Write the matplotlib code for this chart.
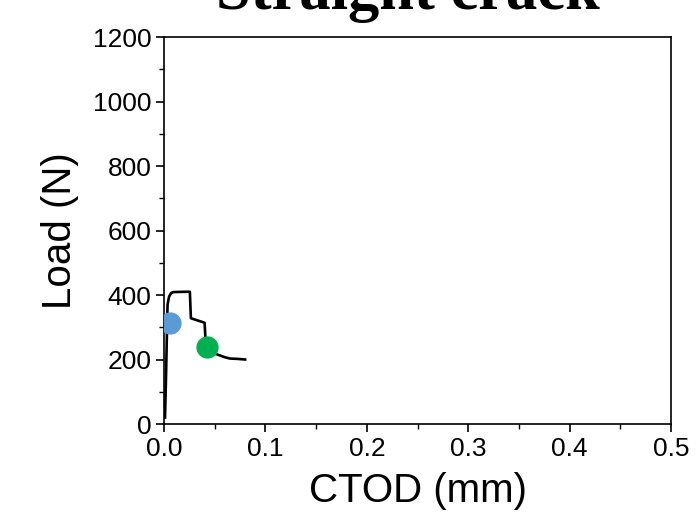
import matplotlib
matplotlib.use("Agg")
import matplotlib.pyplot as plt
from matplotlib.ticker import MultipleLocator

ctod = [0.001, 0.002, 0.003, 0.0035, 0.005, 0.007, 0.009, 0.020, 0.0255, 0.0265,
        0.040, 0.041, 0.043, 0.047, 0.053, 0.060, 0.065, 0.072, 0.080]
load = [20, 150, 300, 370, 395, 406, 409, 410, 410, 328,
        314, 260, 232, 222, 215, 207, 203, 202, 200]
marker_ctod = [0.0062, 0.0424]
marker_load = [312, 239]
marker_colors = ["#5B9BD5", "#00B050"]
title = "Straight crack"

plt.rcParams['font.family'] = ['Liberation Sans', 'DejaVu Sans']
fig = plt.figure(figsize=(7, 5.31), dpi=100)
ax = fig.add_axes([0.2343, 0.2015, 0.7243, 0.7288])
ax.plot(ctod, load, color="black", lw=1.9, zorder=2)
for xv, yv, c in zip(marker_ctod, marker_load, marker_colors):
    ax.plot([xv], [yv], 'o', ms=15, color=c, mec=c, zorder=3)

ax.set_xlim(0, 0.5)
ax.set_ylim(0, 1200)
ax.xaxis.set_major_locator(MultipleLocator(0.1))
ax.xaxis.set_minor_locator(MultipleLocator(0.05))
ax.yaxis.set_major_locator(MultipleLocator(200))
ax.yaxis.set_minor_locator(MultipleLocator(100))
ax.set_xticklabels([f"{v:.1f}" for v in ax.get_xticks()])
ax.tick_params(which='major', direction='out', length=6, width=1.2, labelsize=19, pad=3)
ax.tick_params(which='minor', direction='out', length=3.5, width=1.0)
for s in ax.spines.values():
    s.set_linewidth(1.2)
ax.set_xlabel("CTOD (mm)", fontsize=29, labelpad=8)
ax.set_ylabel("Load (N)", fontsize=29, labelpad=10)
fig.text(408/700, 1 - 9/531, title, ha='center', va='baseline',
         fontsize=45, fontweight='bold', family=['Liberation Serif', 'DejaVu Serif'])
fig.savefig("out.png", dpi=100)
